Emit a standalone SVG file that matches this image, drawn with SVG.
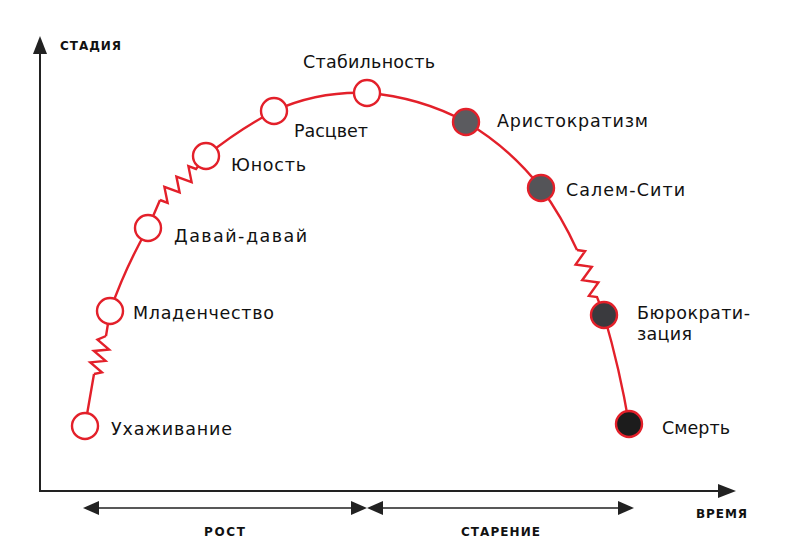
<svg xmlns="http://www.w3.org/2000/svg" width="800" height="554" viewBox="0 0 800 554">
<defs>
<style>
.curve{fill:none;stroke:#e3202a;stroke-width:2.4;stroke-linejoin:miter}
.node{stroke:#e3202a;stroke-width:2.4}
.lbl{font-family:"DejaVu Sans","Liberation Sans",sans-serif;font-size:17.5px;fill:#111}
.ax{font-family:"DejaVu Sans","Liberation Sans",sans-serif;font-size:12px;font-weight:bold;fill:#111}
.axis{stroke:#222;stroke-width:2;fill:none}
.span{stroke:#222;stroke-width:1.5;fill:none}
.head{fill:#222}
</style>
</defs>
<rect width="800" height="554" fill="#fff"/>
<g id="axes">
<path class="axis" d="M40,52 V491 H720"/>
<polygon class="head" points="40,36 47,54 33,54"/>
<polygon class="head" points="736,491 718,484 718,498"/>
<text class="ax" x="60" y="50" textLength="61" lengthAdjust="spacing">СТАДИЯ</text>
<text class="ax" x="696" y="518" textLength="51" lengthAdjust="spacing">ВРЕМЯ</text>
</g>
<g id="phases">
<path class="span" d="M97,508 H352 M382,508 H620"/>
<polygon class="head" points="83,508 99,501 99,515"/>
<polygon class="head" points="367,508 351,501 351,515"/>
<polygon class="head" points="367,508 383,501 383,515"/>
<polygon class="head" points="634,508 618,501 618,515"/>
<text class="ax" x="204" y="536" textLength="41" lengthAdjust="spacing">РОСТ</text>
<text class="ax" x="461" y="536" textLength="79" lengthAdjust="spacing">СТАРЕНИЕ</text>
</g>
<g id="connectors">
<path class="curve" d="M85,426 L94,374 M106,336 L110,311"/>
<polyline class="curve" points="94,374 101.9,372.3 90.3,362.4 105.5,360.9 93.9,351 109.1,349.5 97.5,339.6 106,336"/>
<path class="curve" d="M110,311 Q126,266 148,228 L160,200"/>
<polyline class="curve" points="160,200 167.6,202.8 164.4,186.9 179.6,192.4 176.4,176.6 191.6,182.1 188.4,166.2 196,169 206,156"/>
<path class="curve" d="M206,156 Q238,130 274,111 Q318,91 367,93 Q420,97 466,122 Q510,148 541,188 Q562,217 577,250"/>
<polyline class="curve" points="577,250 585.1,251.2 575.6,264.5 591.8,266.9 582.2,280.2 598.4,282.5 588.9,295.9 597,297 604,315"/>
<path class="curve" d="M604,315 Q620,370 629,424"/>
</g>
<g id="n-courtship"><circle class="node" cx="85" cy="426" r="13" fill="#fff"/><text class="lbl" x="111" y="435" textLength="121" lengthAdjust="spacing">Ухаживание</text></g>
<g id="n-infancy"><circle class="node" cx="110" cy="311" r="13" fill="#fff"/><text class="lbl" x="133" y="319" textLength="141" lengthAdjust="spacing">Младенчество</text></g>
<g id="n-gogo"><circle class="node" cx="148" cy="228" r="13" fill="#fff"/><text class="lbl" x="174" y="242" textLength="133" lengthAdjust="spacing">Давай-давай</text></g>
<g id="n-youth"><circle class="node" cx="206" cy="156" r="13" fill="#fff"/><text class="lbl" x="231" y="171" textLength="75" lengthAdjust="spacing">Юность</text></g>
<g id="n-prime"><circle class="node" cx="274" cy="111" r="13" fill="#fff"/><text class="lbl" x="294" y="137" textLength="74" lengthAdjust="spacing">Расцвет</text></g>
<g id="n-stable"><circle class="node" cx="367" cy="93" r="13" fill="#fff"/><text class="lbl" x="303" y="68" textLength="132" lengthAdjust="spacing">Стабильность</text></g>
<g id="n-aristocracy"><circle class="node" cx="466" cy="122" r="13" fill="#5b5b5f"/><text class="lbl" x="497" y="127" textLength="151" lengthAdjust="spacing">Аристократизм</text></g>
<g id="n-salem"><circle class="node" cx="541" cy="188" r="13" fill="#545458"/><text class="lbl" x="566" y="196" textLength="119" lengthAdjust="spacing">Салем-Сити</text></g>
<g id="n-bureaucracy"><circle class="node" cx="604" cy="315" r="13" fill="#3a3a3e"/><text class="lbl" x="637" y="319" textLength="113" lengthAdjust="spacing">Бюрократи-</text><text class="lbl" x="637" y="340" textLength="55" lengthAdjust="spacing">зация</text></g>
<g id="n-death"><circle class="node" cx="629" cy="424" r="13" fill="#1c1c1c"/><text class="lbl" x="662" y="434" textLength="68" lengthAdjust="spacing">Смерть</text></g>
</svg>
